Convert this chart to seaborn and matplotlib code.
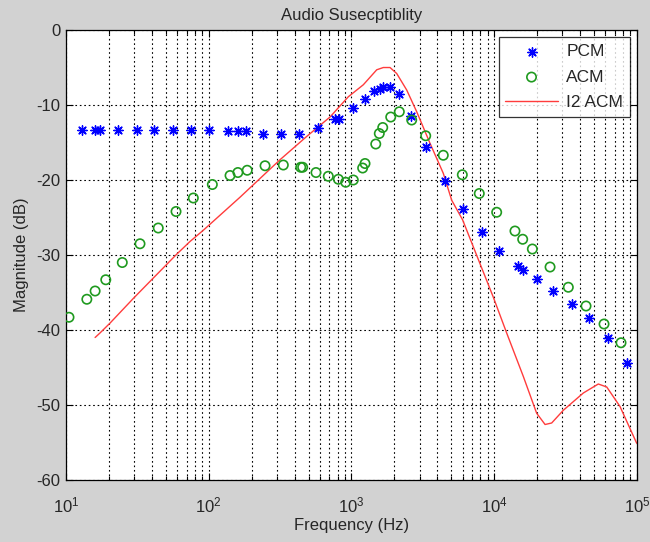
import numpy as np
import pandas as pd
import matplotlib
matplotlib.use("Agg")
import matplotlib.pyplot as plt
import seaborn as sns

# ---- data ----
pcm_freq = [12.9, 16.0, 17.3, 23.2, 31.3, 41.6, 55.9, 74.8, 100, 136, 160, 182,
            241, 319, 430, 585, 771, 822, 1019, 1245, 1445, 1585, 1655, 1862,
            2163, 2612, 3311, 4518, 6000, 8170, 10790, 14590, 15820, 19820,
            25940, 35230, 46350, 62950, 84720]
pcm_db = [-13.3, -13.3, -13.3, -13.3, -13.3, -13.3, -13.3, -13.3, -13.3, -13.4,
          -13.5, -13.5, -13.8, -13.8, -13.8, -13.0, -11.9, -11.8, -10.4, -9.2,
          -8.1, -7.8, -7.6, -7.6, -8.5, -11.5, -15.6, -20.1, -23.9, -26.9,
          -29.4, -31.4, -32.0, -33.2, -34.8, -36.5, -38.4, -41.1, -44.4]

acm_freq = [10.5, 14.0, 16.0, 19.0, 24.8, 33.0, 44.3, 59.0, 78.0, 106, 141, 160,
            186, 248, 333, 441, 455, 564, 688, 809, 911, 1030, 1197, 1244, 1479,
            1566, 1655, 1883, 2163, 2641, 3311, 4395, 5975, 7855, 10400, 13970,
            15820, 18490, 24600, 33030, 43950, 58750, 77270]
acm_db = [-38.3, -35.9, -34.8, -33.3, -31.0, -28.5, -26.4, -24.2, -22.4, -20.6,
          -19.4, -19.0, -18.7, -18.1, -18.0, -18.3, -18.3, -19.0, -19.5, -19.9,
          -20.3, -20.0, -18.4, -17.8, -15.2, -13.8, -13.0, -11.6, -10.9, -12.0,
          -14.1, -16.7, -19.3, -21.8, -24.3, -26.8, -27.9, -29.2, -31.6, -34.3,
          -36.8, -39.2, -41.7]

i2_freq = [16.0, 17.3, 20.3, 29.6, 39.8, 59.6, 73.9, 91.6, 165.5, 315.6, 485,
           707, 950, 1210, 1503, 1671, 1862, 2074, 2437, 2864, 3548, 4395, 5036,
           6000, 9840, 12220, 15990, 19820, 22700, 25250, 30480, 42070, 53580,
           61380, 76030, 99500]
i2_db = [-41.0, -40.4, -39.1, -35.8, -33.3, -29.9, -28.2, -26.7, -22.3, -17.3,
         -14.2, -11.6, -8.9, -7.3, -5.3, -5.0, -5.0, -5.8, -8.0, -10.9, -15.1,
         -19.1, -22.7, -25.3, -35.6, -40.4, -46.2, -51.1, -52.6, -52.4, -50.7,
         -48.4, -47.2, -47.6, -50.2, -55.1]

series_names = ["PCM", "ACM", "I2 ACM"]
title_text = "Audio Susecptiblity"
x_label = "Frequency (Hz)"
y_label = "Magnitude (dB)"
y_ticks = [0, -10, -20, -30, -40, -50, -60]

pcm_df = pd.DataFrame({"f": pcm_freq, "db": pcm_db})
acm_df = pd.DataFrame({"f": acm_freq, "db": acm_db})
i2_df = pd.DataFrame({"f": i2_freq, "db": i2_db})

sns.set_style("ticks")
plt.rcParams["font.family"] = ["Liberation Sans", "DejaVu Sans"]
plt.rcParams["mathtext.fontset"] = "custom"
plt.rcParams["mathtext.rm"] = "Liberation Sans"
plt.rcParams["mathtext.it"] = "Liberation Sans"

bg = "#d2d2d2"
fig = plt.figure(figsize=(6.5, 5.42), dpi=100, facecolor=bg)
ax = fig.add_axes([0.1015, 0.1144, 0.8785, 0.8302])
ax.set_facecolor("white")

sns.scatterplot(data=pcm_df, x="f", y="db", ax=ax, marker=(8, 2, 0), s=45,
                color="blue", linewidth=1.0, label=series_names[0], zorder=3)
sns.scatterplot(data=acm_df, x="f", y="db", ax=ax, marker="o", s=45,
                facecolor="none", edgecolor="#1f9a1f", linewidth=1.2,
                label=series_names[1], zorder=3)
sns.lineplot(data=i2_df, x="f", y="db", ax=ax, color="#ff3c3c", linewidth=1.0,
             label=series_names[2], zorder=2, sort=False)

ax.set_xscale("log")
ax.set_xlim(10, 1e5)
ax.set_ylim(-60, 0)
ax.set_yticks(y_ticks)
ax.set_yticklabels([str(v) for v in y_ticks])

ax.grid(True, which="major", axis="both", color="black", linestyle=(0, (1.5, 2.5)), linewidth=0.8)
ax.grid(True, which="minor", axis="x", color="black", linestyle=(0, (1.5, 2.5)), linewidth=0.8)

ax.tick_params(which="both", direction="in", top=True, right=True, labelsize=12,
               color="black", width=0.8)
ax.tick_params(which="major", length=5)
ax.tick_params(which="minor", length=3)
ax.tick_params(axis="x", which="major", pad=11)
ax.tick_params(axis="y", which="major", pad=4)
for sp in ax.spines.values():
    sp.set_color("black")
    sp.set_linewidth(0.9)

ax.set_title(title_text, fontsize=12, pad=7)
ax.set_xlabel(x_label, fontsize=12, labelpad=2)
ax.set_ylabel(y_label, fontsize=12, labelpad=5)

leg = ax.legend(loc="upper right", fontsize=12.5, frameon=True, fancybox=False,
                edgecolor="black", borderaxespad=0.4, handlelength=3.0,
                handletextpad=0.5, borderpad=0.4, labelspacing=0.6)
leg.get_frame().set_linewidth(0.9)

fig.savefig("out.png", dpi=100, facecolor=bg)
